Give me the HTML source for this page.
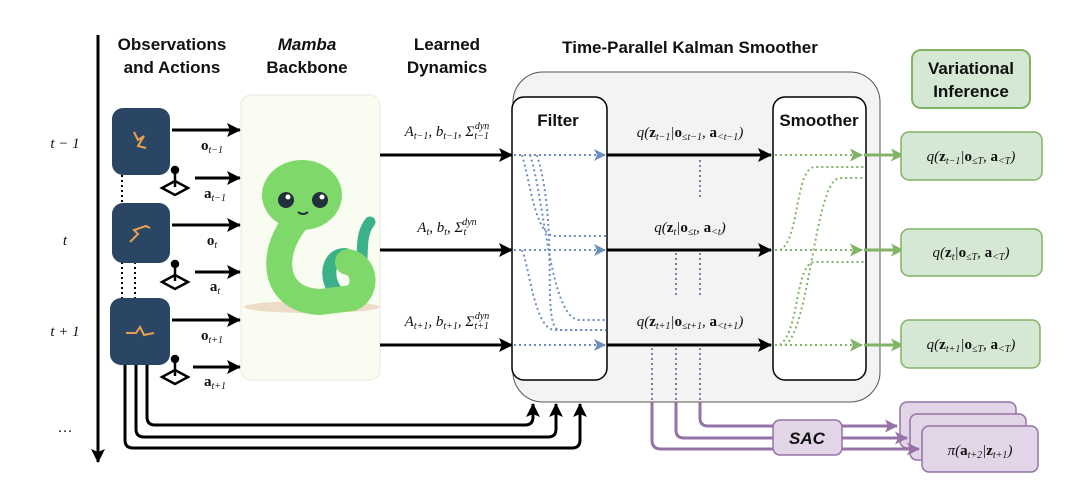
<!DOCTYPE html>
<html><head><meta charset="utf-8"><style>
html,body{margin:0;padding:0;background:#fff;}
svg{display:block;}
.h{font-family:"Liberation Sans",sans-serif;font-weight:bold;font-size:17px;fill:#111;text-anchor:middle;}
.m{font-family:"Liberation Serif",serif;font-size:15px;fill:#111;text-anchor:middle;}
.s{font-size:10px;}
</style></head><body>
<svg width="1080" height="497" viewBox="0 0 1080 497" xmlns="http://www.w3.org/2000/svg">
<defs>
<marker id="ab" markerWidth="14" markerHeight="14" refX="13" refY="7" orient="auto" markerUnits="userSpaceOnUse"><path d="M0,0 L14,7 L0,14 L3,7z" fill="#000"/></marker>
<marker id="abl" markerWidth="12" markerHeight="12" refX="11" refY="6" orient="auto" markerUnits="userSpaceOnUse"><path d="M0,0 L12,6 L0,12 L3,6z" fill="#6c8ebf"/></marker>
<marker id="ag" markerWidth="13" markerHeight="13" refX="12" refY="6.5" orient="auto" markerUnits="userSpaceOnUse"><path d="M0,0 L13,6.5 L0,13 L3,6.5z" fill="#82b366"/></marker>
<marker id="ap" markerWidth="13" markerHeight="13" refX="12" refY="6.5" orient="auto" markerUnits="userSpaceOnUse"><path d="M0,0 L13,6.5 L0,13 L3,6.5z" fill="#9673a6"/></marker>
</defs>
<line x1="98" y1="35" x2="98" y2="462" stroke="#000" stroke-width="3" marker-end="url(#ab)"/>
<text class="m" x="65" y="148" font-style="italic" font-size="16">t − 1</text>
<text class="m" x="65" y="245" font-style="italic" font-size="16">t</text>
<text class="m" x="65" y="336" font-style="italic" font-size="16">t + 1</text>
<text class="m" x="65" y="432">…</text>
<text class="h" x="172" y="50">Observations</text>
<text class="h" x="172" y="73">and Actions</text>
<text class="h" x="307" y="50" font-style="italic">Mamba</text>
<text class="h" x="307" y="73">Backbone</text>
<text class="h" x="447" y="50">Learned</text>
<text class="h" x="447" y="73">Dynamics</text>
<text class="h" x="690" y="53">Time-Parallel Kalman Smoother</text>
<rect x="912" y="50" width="118" height="58" rx="9" fill="#d5e8d4" stroke="#82b366" stroke-width="2"/>
<text class="h" x="971" y="74" font-size="18">Variational</text>
<text class="h" x="971" y="97" font-size="18">Inference</text>
<g stroke="#000" stroke-width="2" stroke-dasharray="2,3">
<line x1="122" y1="175" x2="122" y2="203"/><line x1="122" y1="262" x2="122" y2="298"/><line x1="135" y1="262" x2="135" y2="298"/>
</g>
<g fill="none" stroke="#000" stroke-width="3">
<path d="M125,365 V440 Q125,448 133,448 H572 Q580,448 580,440 V404" marker-end="url(#ab)"/>
<path d="M136,365 V429 Q136,437 144,437 H548 Q556,437 556,429 V404" marker-end="url(#ab)"/>
<path d="M147,365 V417 Q147,425 155,425 H525 Q533,425 533,417 V404" marker-end="url(#ab)"/>
</g>
<g>
<rect x="112" y="108" width="58" height="67" rx="11" fill="#2b4564"/>
<rect x="112" y="203" width="58" height="60" rx="11" fill="#2b4564"/>
<rect x="110" y="298" width="60" height="67" rx="11" fill="#2b4564"/>
<path d="M134,132 l4,8 l6,-4 l-6,10 l8,2" stroke="#e8a04a" stroke-width="2" fill="none"/>
<path d="M130,242 l8,-8 l-4,-4 l12,-4 l4,2" stroke="#e8a04a" stroke-width="2" fill="none"/>
<path d="M126,333 l10,0 l4,-6 l4,8 l10,-2" stroke="#e8a04a" stroke-width="2" fill="none"/>
</g>
<g fill="#fff" stroke="#000" stroke-width="2.5">
<path d="M162,188 l13,-7 l13,7 l-13,7z"/><line x1="175" y1="187" x2="175" y2="173"/><circle cx="175" cy="170" r="3" fill="#000"/>
<path d="M162,282 l13,-7 l13,7 l-13,7z"/><line x1="175" y1="281" x2="175" y2="267"/><circle cx="175" cy="264" r="3" fill="#000"/>
<path d="M162,377 l13,-7 l13,7 l-13,7z"/><line x1="175" y1="376" x2="175" y2="362"/><circle cx="175" cy="359" r="3" fill="#000"/>
</g>
<g stroke="#000" stroke-width="3">
<line x1="172" y1="130" x2="240" y2="130" marker-end="url(#ab)"/>
<line x1="195" y1="178" x2="240" y2="178" marker-end="url(#ab)"/>
<line x1="172" y1="225" x2="240" y2="225" marker-end="url(#ab)"/>
<line x1="195" y1="272" x2="240" y2="272" marker-end="url(#ab)"/>
<line x1="172" y1="320" x2="240" y2="320" marker-end="url(#ab)"/>
<line x1="193" y1="367" x2="240" y2="367" marker-end="url(#ab)"/>
</g>
<g class="m" font-weight="bold">
<text x="212" y="150">o<tspan class="s" font-weight="normal" font-style="italic" dy="3">t−1</tspan></text>
<text x="215" y="198">a<tspan class="s" font-weight="normal" font-style="italic" dy="3">t−1</tspan></text>
<text x="212" y="245">o<tspan class="s" font-weight="normal" font-style="italic" dy="3">t</tspan></text>
<text x="215" y="291">a<tspan class="s" font-weight="normal" font-style="italic" dy="3">t</tspan></text>
<text x="212" y="340">o<tspan class="s" font-weight="normal" font-style="italic" dy="3">t+1</tspan></text>
<text x="215" y="386">a<tspan class="s" font-weight="normal" font-style="italic" dy="3">t+1</tspan></text>
</g>
<rect x="241" y="95" width="139" height="285" rx="10" fill="#f9fcf1" stroke="#e6ebe0"/>
<ellipse cx="312" cy="307" rx="68" ry="6" fill="#ecdcc8"/>
<path d="M352,292 C370,270 355,240 370,222" stroke="#3bb18a" stroke-width="11" fill="none" stroke-linecap="round"/>
<path d="M345,255 C325,255 325,285 340,295" stroke="#3bb18a" stroke-width="14" fill="none" stroke-linecap="round"/>
<path d="M302,215 C270,245 268,300 320,302 L352,298 C368,290 365,265 348,262" stroke="#7fd96a" stroke-width="26" fill="none" stroke-linecap="round"/>
<ellipse cx="302" cy="195" rx="40" ry="35" fill="#7fd96a"/>
<circle cx="286" cy="200" r="8" fill="#23303a"/><circle cx="320" cy="200" r="8" fill="#23303a"/>
<circle cx="288" cy="197" r="2.5" fill="#fff"/><circle cx="322" cy="197" r="2.5" fill="#fff"/>
<path d="M298,212 q5,4 10,0" stroke="#23303a" stroke-width="2" fill="none"/>
<g stroke="#000" stroke-width="3">
<line x1="380" y1="155" x2="512" y2="155" marker-end="url(#ab)"/>
<line x1="380" y1="250" x2="512" y2="250" marker-end="url(#ab)"/>
<line x1="380" y1="345" x2="512" y2="345" marker-end="url(#ab)"/>
</g>
<g class="m" font-style="italic">
<text x="447" y="136">A<tspan class="s" dy="3">t−1</tspan><tspan dy="-3">, b</tspan><tspan class="s" dy="3">t−1</tspan><tspan dy="-3">, Σ</tspan><tspan class="s" dy="3">t−1</tspan><tspan class="s" dx="-14" dy="-10">dyn</tspan></text>
<text x="447" y="232">A<tspan class="s" dy="3">t</tspan><tspan dy="-3">, b</tspan><tspan class="s" dy="3">t</tspan><tspan dy="-3">, Σ</tspan><tspan class="s" dy="3">t</tspan><tspan class="s" dx="-4" dy="-10">dyn</tspan></text>
<text x="447" y="326">A<tspan class="s" dy="3">t+1</tspan><tspan dy="-3">, b</tspan><tspan class="s" dy="3">t+1</tspan><tspan dy="-3">, Σ</tspan><tspan class="s" dy="3">t+1</tspan><tspan class="s" dx="-14" dy="-10">dyn</tspan></text>
</g>
<rect x="513" y="72" width="367" height="330" rx="30" fill="#f3f3f3" stroke="#555" stroke-width="1"/>
<rect x="512" y="97" width="95" height="283" rx="12" fill="#fff" stroke="#000" stroke-width="1.5"/>
<rect x="773" y="97" width="93" height="283" rx="12" fill="#fff" stroke="#000" stroke-width="1.5"/>
<text class="h" x="558" y="126" font-size="16">Filter</text>
<text class="h" x="819" y="126" font-size="16">Smoother</text>
<g fill="none" stroke="#6c8ebf" stroke-width="2" stroke-dasharray="2,3">
<line x1="514" y1="155" x2="605" y2="155" marker-end="url(#abl)"/>
<line x1="514" y1="250" x2="605" y2="250" marker-end="url(#abl)"/>
<line x1="514" y1="345" x2="605" y2="345" marker-end="url(#abl)"/>
<path d="M522,155 C530,180 535,236 555,236 H606"/>
<path d="M530,155 C545,200 550,320 580,320 H606"/>
<path d="M537,155 C560,230 540,330 560,330 H606"/>
<path d="M522,250 C530,270 535,330 555,330 H606"/>
</g>
<g stroke="#000" stroke-width="3">
<line x1="607" y1="155" x2="771" y2="155" marker-end="url(#ab)"/>
<line x1="607" y1="250" x2="771" y2="250" marker-end="url(#ab)"/>
<line x1="607" y1="345" x2="771" y2="345" marker-end="url(#ab)"/>
</g>
<g class="m" font-style="italic">
<text x="690" y="137">q(<tspan font-weight="bold" font-style="normal">z</tspan><tspan class="s" dy="3">t−1</tspan><tspan dy="-3">|</tspan><tspan font-weight="bold" font-style="normal">o</tspan><tspan class="s" dy="3">≤t−1</tspan><tspan dy="-3">, </tspan><tspan font-weight="bold" font-style="normal">a</tspan><tspan class="s" dy="3">&lt;t−1</tspan><tspan dy="-3">)</tspan></text>
<text x="690" y="232">q(<tspan font-weight="bold" font-style="normal">z</tspan><tspan class="s" dy="3">t</tspan><tspan dy="-3">|</tspan><tspan font-weight="bold" font-style="normal">o</tspan><tspan class="s" dy="3">≤t</tspan><tspan dy="-3">, </tspan><tspan font-weight="bold" font-style="normal">a</tspan><tspan class="s" dy="3">&lt;t</tspan><tspan dy="-3">)</tspan></text>
<text x="690" y="326">q(<tspan font-weight="bold" font-style="normal">z</tspan><tspan class="s" dy="3">t+1</tspan><tspan dy="-3">|</tspan><tspan font-weight="bold" font-style="normal">o</tspan><tspan class="s" dy="3">≤t+1</tspan><tspan dy="-3">, </tspan><tspan font-weight="bold" font-style="normal">a</tspan><tspan class="s" dy="3">&lt;t+1</tspan><tspan dy="-3">)</tspan></text>
</g>
<g stroke="#9673a6" stroke-width="2" stroke-dasharray="2,3">
<line x1="700" y1="160" x2="700" y2="200"/>
<line x1="676" y1="253" x2="676" y2="295"/><line x1="700" y1="253" x2="700" y2="295"/>
<line x1="652" y1="348" x2="652" y2="402"/><line x1="676" y1="348" x2="676" y2="402"/><line x1="700" y1="348" x2="700" y2="402"/>
</g>
<g fill="none" stroke="#82b366" stroke-width="2" stroke-dasharray="2,3">
<line x1="775" y1="155" x2="862" y2="155" marker-end="url(#ag)"/>
<line x1="775" y1="250" x2="862" y2="250" marker-end="url(#ag)"/>
<line x1="775" y1="345" x2="862" y2="345" marker-end="url(#ag)"/>
<path d="M780,250 C800,240 795,167 815,167 H864"/>
<path d="M785,345 C810,330 815,178 840,178 H864"/>
<path d="M780,345 C800,330 795,262 815,262 H864"/>
</g>
<g stroke="#82b366" stroke-width="3">
<line x1="864" y1="155" x2="903" y2="155" marker-end="url(#ag)"/>
<line x1="864" y1="250" x2="903" y2="250" marker-end="url(#ag)"/>
<line x1="864" y1="345" x2="903" y2="345" marker-end="url(#ag)"/>
</g>
<g fill="#d5e8d4" stroke="#82b366" stroke-width="1.5">
<rect x="901" y="132" width="141" height="48" rx="8"/>
<rect x="901" y="229" width="141" height="47" rx="8"/>
<rect x="901" y="320" width="139" height="48" rx="8"/>
</g>
<g class="m" font-style="italic">
<text x="971" y="161">q(<tspan font-weight="bold" font-style="normal">z</tspan><tspan class="s" dy="3">t−1</tspan><tspan dy="-3">|</tspan><tspan font-weight="bold" font-style="normal">o</tspan><tspan class="s" dy="3">≤T</tspan><tspan dy="-3">, </tspan><tspan font-weight="bold" font-style="normal">a</tspan><tspan class="s" dy="3">&lt;T</tspan><tspan dy="-3">)</tspan></text>
<text x="971" y="257">q(<tspan font-weight="bold" font-style="normal">z</tspan><tspan class="s" dy="3">t</tspan><tspan dy="-3">|</tspan><tspan font-weight="bold" font-style="normal">o</tspan><tspan class="s" dy="3">≤T</tspan><tspan dy="-3">, </tspan><tspan font-weight="bold" font-style="normal">a</tspan><tspan class="s" dy="3">&lt;T</tspan><tspan dy="-3">)</tspan></text>
<text x="971" y="349">q(<tspan font-weight="bold" font-style="normal">z</tspan><tspan class="s" dy="3">t+1</tspan><tspan dy="-3">|</tspan><tspan font-weight="bold" font-style="normal">o</tspan><tspan class="s" dy="3">≤T</tspan><tspan dy="-3">, </tspan><tspan font-weight="bold" font-style="normal">a</tspan><tspan class="s" dy="3">&lt;T</tspan><tspan dy="-3">)</tspan></text>
</g>
<g fill="none" stroke="#9673a6" stroke-width="3">
<path d="M652,402 V440 Q652,449 661,449 H775"/>
<path d="M676,402 V430 Q676,438 684,438 H775"/>
<path d="M700,402 V418 Q700,426 708,426 H775"/>
</g>
<g fill="#e1d5e7" stroke="#9673a6" stroke-width="1.5">
<rect x="900" y="402" width="116" height="46" rx="7"/>
<rect x="910" y="414" width="116" height="46" rx="7"/>
<rect x="922" y="426" width="116" height="46" rx="7"/>
</g>
<g stroke="#9673a6" stroke-width="3">
<line x1="842" y1="426" x2="897" y2="426" marker-end="url(#ap)"/>
<line x1="842" y1="438" x2="907" y2="438" marker-end="url(#ap)"/>
<line x1="842" y1="449" x2="919" y2="449" marker-end="url(#ap)"/>
</g>
<rect x="773" y="420" width="69" height="35" rx="7" fill="#e1d5e7" stroke="#9673a6" stroke-width="1.5"/>
<text class="h" x="807" y="444" font-style="italic">SAC</text>
<text class="m" x="980" y="455" font-style="italic">π(<tspan font-weight="bold" font-style="normal">a</tspan><tspan class="s" dy="3">t+2</tspan><tspan dy="-3">|</tspan><tspan font-weight="bold" font-style="normal">z</tspan><tspan class="s" dy="3">t+1</tspan><tspan dy="-3">)</tspan></text>
</svg>
</body></html>
